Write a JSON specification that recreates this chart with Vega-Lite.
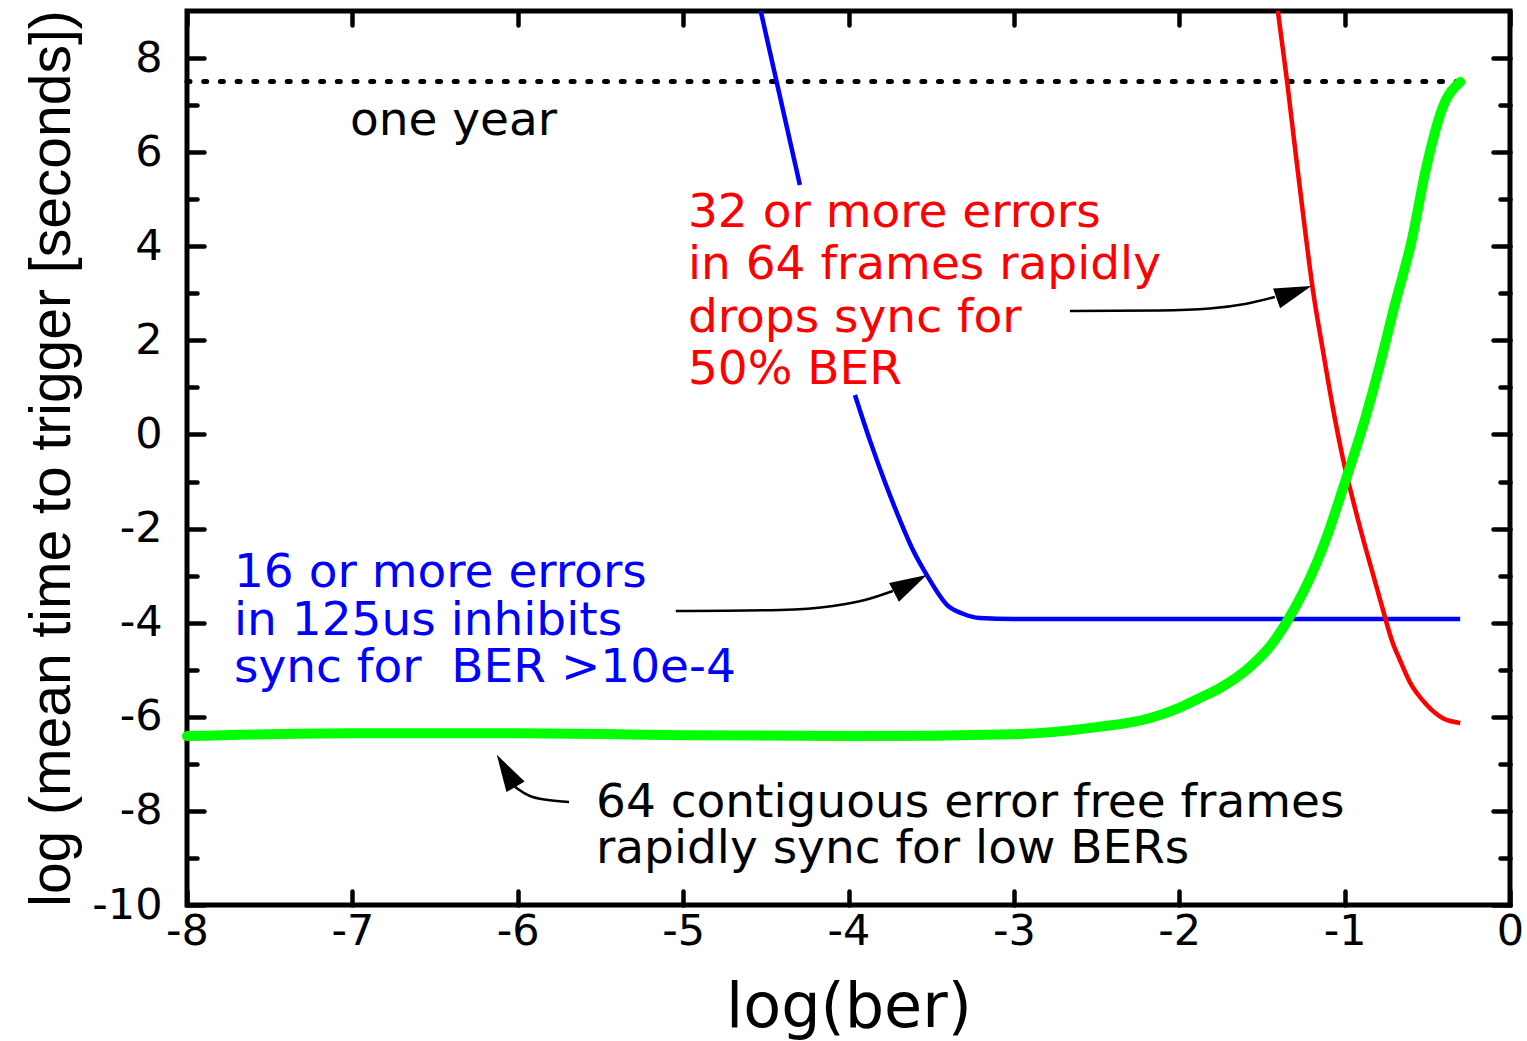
{
  "$schema": "https://vega.github.io/schema/vega-lite/v6.json",
  "width": 1323,
  "height": 894,
  "autosize": "none",
  "padding": {"left": 187, "top": 11, "right": 17, "bottom": 136},
  "background": "white",
  "view": {"stroke": "black", "strokeWidth": 5},
  "config": {
    "axis": {"grid": false, "domain": false, "tickColor": "black", "tickWidth": 4.5, "tickCap": "round", "labelColor": "black", "titleColor": "black", "labelFlush": false, "labelOverlap": false, "labelBound": false}
  },
  "datasets": {
    "green": [
      {"x": -8.0, "y": -6.41}, {"x": -7.0, "y": -6.35}, {"x": -6.0, "y": -6.35}, {"x": -5.0, "y": -6.39},
      {"x": -4.0, "y": -6.41}, {"x": -3.0, "y": -6.37}, {"x": -2.5, "y": -6.22}, {"x": -2.18, "y": -6.03},
      {"x": -2.0, "y": -5.81}, {"x": -1.875, "y": -5.6}, {"x": -1.755, "y": -5.39}, {"x": -1.573, "y": -4.94},
      {"x": -1.45, "y": -4.5}, {"x": -1.343, "y": -3.94}, {"x": -1.25, "y": -3.35}, {"x": -1.168, "y": -2.72},
      {"x": -1.1, "y": -2.1}, {"x": -1.029, "y": -1.35}, {"x": -0.95, "y": -0.5}, {"x": -0.878, "y": 0.31},
      {"x": -0.787, "y": 1.48}, {"x": -0.697, "y": 2.75}, {"x": -0.594, "y": 4.13}, {"x": -0.51, "y": 5.62},
      {"x": -0.406, "y": 6.96}, {"x": -0.301, "y": 7.49}
    ],
    "blue": [
      {"seg": 1, "x": -4.55, "y": 9.3}, {"seg": 1, "x": -4.294, "y": 5.3},
      {"seg": 2, "x": -3.961, "y": 0.84}, {"seg": 2, "x": -3.871, "y": -0.12}, {"seg": 2, "x": -3.78, "y": -1.01},
      {"seg": 2, "x": -3.689, "y": -1.82}, {"seg": 2, "x": -3.611, "y": -2.45}, {"seg": 2, "x": -3.526, "y": -2.99},
      {"seg": 2, "x": -3.405, "y": -3.62}, {"seg": 2, "x": -3.308, "y": -3.81}, {"seg": 2, "x": -3.206, "y": -3.9},
      {"seg": 2, "x": -3.0, "y": -3.92}, {"seg": 2, "x": -0.301, "y": -3.92}
    ],
    "red": [
      {"x": -1.415, "y": 9.3}, {"x": -1.349, "y": 7.535}, {"x": -1.295, "y": 5.94}, {"x": -1.241, "y": 4.389},
      {"x": -1.192, "y": 3.071}, {"x": -1.132, "y": 1.796}, {"x": -1.071, "y": 0.563}, {"x": -1.011, "y": -0.499},
      {"x": -0.95, "y": -1.39}, {"x": -0.89, "y": -2.2}, {"x": -0.829, "y": -2.965}, {"x": -0.775, "y": -3.645},
      {"x": -0.709, "y": -4.43}, {"x": -0.666, "y": -4.793}, {"x": -0.606, "y": -5.26}, {"x": -0.503, "y": -5.75},
      {"x": -0.406, "y": -6.03}, {"x": -0.301, "y": -6.13}
    ],
    "oneyear": [{"x1": -8, "x2": -0.301, "y": 7.5}],
    "blackText": [
      {"x": -7.015, "y": 6.366, "label": "one year"},
      {"x": -5.527, "y": -8.13, "label": "64 contiguous error free frames"},
      {"x": -5.527, "y": -9.107, "label": "rapidly sync for low BERs"}
    ],
    "redText": [
      {"x": -4.971, "y": 4.41, "label": "32 or more errors"},
      {"x": -4.971, "y": 3.3, "label": "in 64 frames rapidly"},
      {"x": -4.971, "y": 2.18, "label": "drops sync for"},
      {"x": -4.971, "y": 1.07, "label": "50% BER"}
    ],
    "blueText": [
      {"x": -7.716, "y": -3.241, "label": "16 or more errors"},
      {"x": -7.716, "y": -4.261, "label": "in 125us inhibits"},
      {"x": -7.716, "y": -5.26, "label": "sync for\u00a0 BER >10e-4"}
    ],
    "arrowLines": [
      {"arrow": "red", "x": -2.661, "y": 2.625}, {"arrow": "red", "x": -2.117, "y": 2.636}, {"arrow": "red", "x": -1.815, "y": 2.678},
      {"arrow": "red", "x": -1.603, "y": 2.774}, {"arrow": "red", "x": -1.422, "y": 2.922},
      {"arrow": "blue", "x": -5.044, "y": -3.751}, {"arrow": "blue", "x": -4.415, "y": -3.73}, {"arrow": "blue", "x": -4.094, "y": -3.645},
      {"arrow": "blue", "x": -3.901, "y": -3.518}, {"arrow": "blue", "x": -3.732, "y": -3.326},
      {"arrow": "green", "x": -5.69, "y": -7.811}, {"arrow": "green", "x": -5.817, "y": -7.768}, {"arrow": "green", "x": -5.926, "y": -7.683},
      {"arrow": "green", "x": -5.999, "y": -7.535}, {"arrow": "green", "x": -6.035, "y": -7.428}
    ],
    "headRed": [{"x": -1.306, "y": 3.023}],
    "headBlue": [{"x": -3.626, "y": -3.172}],
    "headGreen": [{"x": -6.07, "y": -7.147}]
  },
  "resolve": {"axis": {"x": "independent", "y": "independent"}},
  "layer": [
    {
      "data": {"name": "oneyear"},
      "mark": {"type": "rule", "color": "black", "strokeWidth": 5, "strokeDash": [3, 13.7], "strokeCap": "round"},
      "encoding": {
        "x": {"field": "x1", "type": "quantitative", "scale": {"domain": [-8, 0], "nice": false, "zero": false}, "axis": null},
        "x2": {"field": "x2"},
        "y": {"field": "y", "type": "quantitative", "scale": {"domain": [-10, 9], "nice": false, "zero": false},
              "axis": {"orient": "right", "values": [-10, -8, -6, -4, -2, 0, 2, 4, 6, 8], "labels": false, "tickSize": -17, "title": null}}
      }
    },
    {
      "data": {"name": "blue"},
      "mark": {"type": "line", "color": "#0000ff", "strokeWidth": 4.5, "clip": true, "interpolate": "monotone"},
      "encoding": {
        "x": {"field": "x", "type": "quantitative", "axis": {"orient": "bottom", "values": [-8, -7, -6, -5, -4, -3, -2, -1, 0], "labels": false, "tickSize": -14, "title": null}},
        "y": {"field": "y", "type": "quantitative", "axis": {"orient": "left", "values": [-10, -8, -6, -4, -2, 0, 2, 4, 6, 8], "labels": false, "tickSize": -17, "title": null}},
        "detail": {"field": "seg", "type": "nominal"}
      }
    },
    {
      "data": {"name": "red"},
      "mark": {"type": "line", "color": "#ff0000", "strokeWidth": 4.5, "clip": true, "interpolate": "monotone"},
      "encoding": {
        "x": {"field": "x", "type": "quantitative", "axis": {"orient": "top", "values": [-8, -7, -6, -5, -4, -3, -2, -1, 0], "labels": false, "tickSize": -14, "title": null}},
        "y": {"field": "y", "type": "quantitative", "axis": {"orient": "left", "values": [-9, -7, -5, -3, -1, 1, 3, 5, 7], "labels": false, "tickSize": -10, "title": null}}
      }
    },
    {
      "data": {"name": "green"},
      "mark": {"type": "line", "color": "#00ff00", "strokeWidth": 10, "strokeCap": "round", "strokeJoin": "round", "interpolate": "monotone"},
      "encoding": {
        "x": {"field": "x", "type": "quantitative", "axis": {"orient": "bottom", "values": [-8, -7, -6, -5, -4, -3, -2, -1, 0], "ticks": false, "tickSize": 0, "labelPadding": 5,
              "labelFont": "DejaVu Sans", "labelFontSize": 43, "labelBaseline": "top",
              "labelExpr": "datum.value < 0 ? '-' + abs(datum.value) : '' + datum.value",
              "title": "log(ber)", "titleFont": "DejaVu Sans", "titleFontSize": 62, "titleFontWeight": "normal", "titlePadding": 24}},
        "y": {"field": "y", "type": "quantitative", "axis": {"orient": "left", "values": [-10, -8, -6, -4, -2, 0, 2, 4, 6, 8], "ticks": false, "tickSize": 0, "labelPadding": 25,
              "labelFont": "DejaVu Sans", "labelFontSize": 43,
              "labelExpr": "datum.value < 0 ? '-' + abs(datum.value) : '' + datum.value",
              "title": "log (mean time to trigger [seconds])", "titleFont": "Liberation Sans", "titleFontSize": 57, "titleFontWeight": "normal", "titlePadding": 10}}
      }
    },
    {
      "data": {"name": "blackText"},
      "mark": {"type": "text", "font": "DejaVu Sans", "fontSize": 47, "color": "black", "align": "left", "baseline": "alphabetic"},
      "encoding": {
        "x": {"field": "x", "type": "quantitative", "axis": null},
        "y": {"field": "y", "type": "quantitative", "axis": {"orient": "right", "values": [-9, -7, -5, -3, -1, 1, 3, 5, 7], "labels": false, "tickSize": -10, "title": null}},
        "text": {"field": "label", "type": "nominal"}
      }
    },
    {
      "data": {"name": "redText"},
      "mark": {"type": "text", "font": "DejaVu Sans", "fontSize": 47, "color": "#ff0000", "align": "left", "baseline": "alphabetic"},
      "encoding": {
        "x": {"field": "x", "type": "quantitative", "axis": null},
        "y": {"field": "y", "type": "quantitative", "axis": null},
        "text": {"field": "label", "type": "nominal"}
      }
    },
    {
      "data": {"name": "blueText"},
      "mark": {"type": "text", "font": "DejaVu Sans", "fontSize": 47, "color": "#0000ff", "align": "left", "baseline": "alphabetic"},
      "encoding": {
        "x": {"field": "x", "type": "quantitative", "axis": null},
        "y": {"field": "y", "type": "quantitative", "axis": null},
        "text": {"field": "label", "type": "nominal"}
      }
    },
    {
      "data": {"name": "arrowLines"},
      "mark": {"type": "line", "color": "black", "strokeWidth": 2.5, "interpolate": "monotone"},
      "encoding": {
        "x": {"field": "x", "type": "quantitative", "axis": null},
        "y": {"field": "y", "type": "quantitative", "axis": null},
        "detail": {"field": "arrow", "type": "nominal"}
      }
    },
    {
      "data": {"name": "headRed"},
      "mark": {"type": "point", "shape": "M1,0L-1,-0.57L-1,0.57Z", "size": 1369, "filled": true, "color": "black", "opacity": 1, "strokeWidth": 0, "angle": -19.4},
      "encoding": {
        "x": {"field": "x", "type": "quantitative", "axis": null},
        "y": {"field": "y", "type": "quantitative", "axis": null}
      }
    },
    {
      "data": {"name": "headBlue"},
      "mark": {"type": "point", "shape": "M1,0L-1,-0.57L-1,0.57Z", "size": 1369, "filled": true, "color": "black", "opacity": 1, "strokeWidth": 0, "angle": -27.9},
      "encoding": {
        "x": {"field": "x", "type": "quantitative", "axis": null},
        "y": {"field": "y", "type": "quantitative", "axis": null}
      }
    },
    {
      "data": {"name": "headGreen"},
      "mark": {"type": "point", "shape": "M1,0L-1,-0.57L-1,0.57Z", "size": 1369, "filled": true, "color": "black", "opacity": 1, "strokeWidth": 0, "angle": -120.4},
      "encoding": {
        "x": {"field": "x", "type": "quantitative", "axis": null},
        "y": {"field": "y", "type": "quantitative", "axis": null}
      }
    }
  ]
}
